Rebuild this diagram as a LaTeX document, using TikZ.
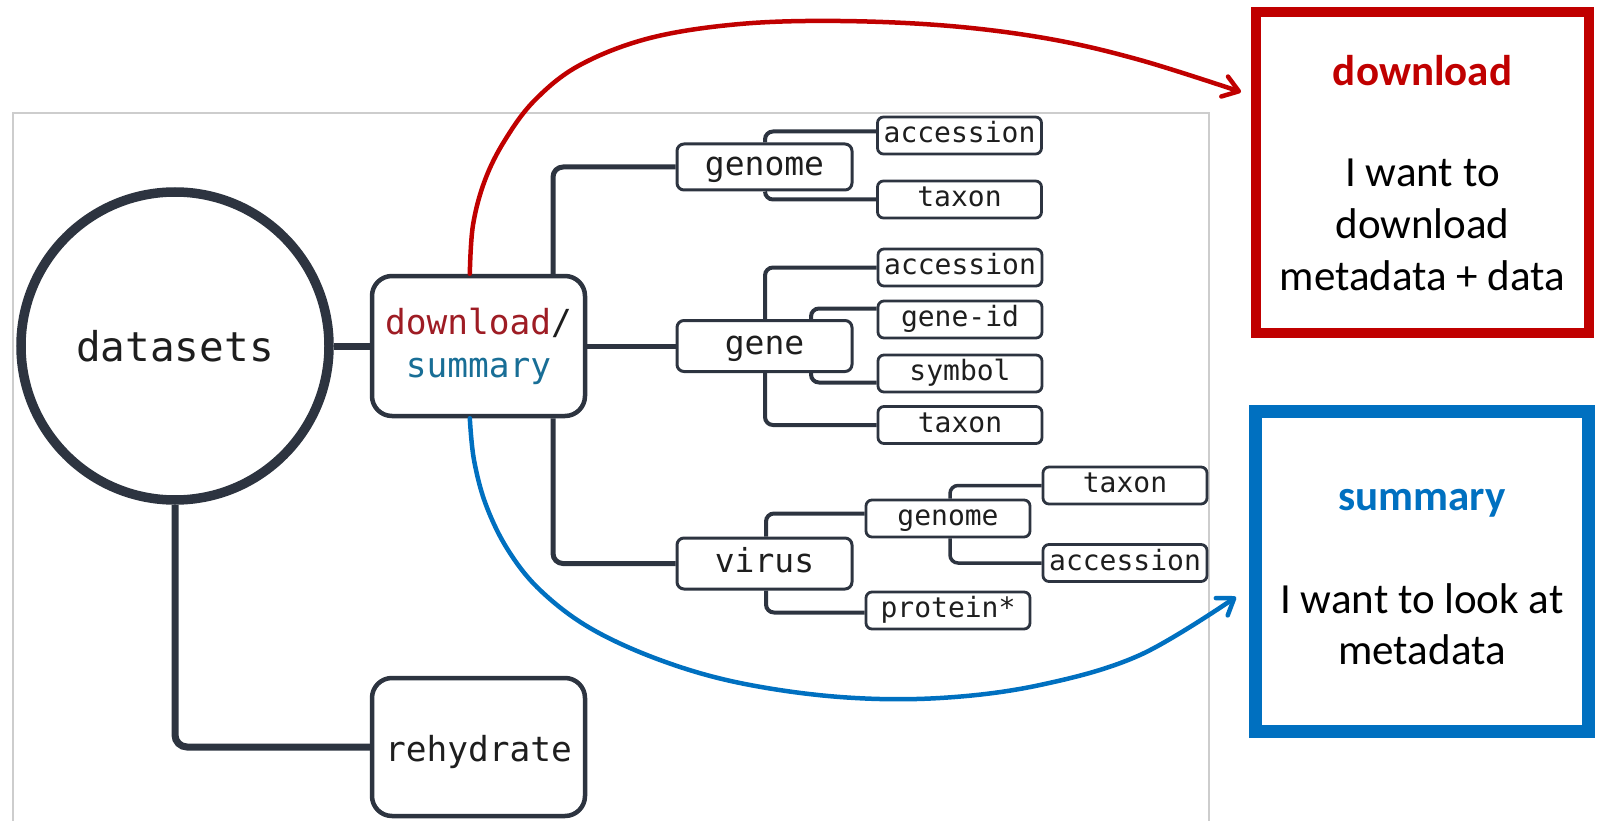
\documentclass[tikz,border=0pt]{standalone}
\usepackage{fontspec}
\setmainfont{Carlito}
\newfontfamily\monof{DejaVu Sans Mono}
\usetikzlibrary{arrows.meta,calc}

\definecolor{ink}{RGB}{45,52,64}
\definecolor{txt}{RGB}{30,30,30}
\definecolor{dlred}{RGB}{158,28,36}
\definecolor{sumblue}{RGB}{24,110,150}
\definecolor{boxred}{RGB}{192,0,0}
\definecolor{boxblue}{RGB}{0,112,192}
\definecolor{framegray}{RGB}{205,205,205}

\begin{document}
\begin{tikzpicture}[x=1pt,y=-1pt,
  rootnode/.style={circle, draw=ink, fill=white, line width=9.5pt, minimum size=308pt,
    inner sep=0pt, text=txt, font=\monof\fontsize{41}{49}\selectfont},
  cmdbox/.style={draw=ink, fill=white, line width=4.5pt, rounded corners=20pt,
    minimum width=213pt, minimum height=140pt, inner sep=0pt, align=center,
    text=txt, font=\monof\fontsize{34.5}{43}\selectfont},
  subbox/.style={draw=ink, fill=white, line width=3pt, rounded corners=7pt,
    minimum width=175pt, minimum height=50pt, inner sep=0pt, text=txt,
    text height=25pt, text depth=8pt, font=\monof\fontsize{33}{39}\selectfont},
  leafbox/.style={draw=ink, fill=white, line width=2.8pt, rounded corners=6pt,
    minimum width=164pt, minimum height=37pt, inner sep=0pt, text=txt,
    text height=21.3pt, text depth=6.7pt, font=\monof\fontsize{28}{34}\selectfont},
  trunk/.style={draw=ink, line width=7pt, rounded corners=12pt},
  branch/.style={draw=ink, line width=5pt, rounded corners=10pt},
  twig/.style={draw=ink, line width=4pt, rounded corners=8pt},
  notebox/.style={line width=10pt, minimum width=333pt, minimum height=321pt, inner sep=0pt},
  notetext/.style={anchor=base, text=black, font=\fontsize{43}{52}\selectfont},
  pointer/.style={line width=4.5pt, line cap=round,
    -{Straight Barb[length=15pt,width=21pt,round]}}
]
\useasboundingbox (0,0) rectangle (1598,821);

% light frame of the command tree panel
\draw[framegray, line width=1.2pt] (13,821) -- (13,113) -- (1209,113) -- (1209,821);

% command tree
\node[rootnode] (root) at (175,346) {datasets};
\node[cmdbox] (dl) at (478.5,346)
  {\textcolor{dlred}{download}/\\\textcolor{sumblue}{summary}};
\node[cmdbox, minimum height=138pt, text height=30pt, text depth=2pt] (rh) at (478.5,747) {rehydrate};

\node[subbox, minimum height=46pt] (gm) at (764.5,167) {genome};
\node[subbox, minimum height=51pt] (gn) at (764.5,346) {gene};
\node[subbox, minimum height=51pt] (vr) at (764.5,563.5) {virus};

\node[leafbox] (ga) at (959.5,135.5) {accession};
\node[leafbox] (gt) at (959.5,199.5) {taxon};

\node[leafbox] (na) at (960,267.5) {accession};
\node[leafbox] (ni) at (960,319.5) {gene-id};
\node[leafbox] (ns) at (960,373.5) {symbol};
\node[leafbox] (nt) at (960,425) {taxon};

\node[leafbox] (vg) at (948,518.5) {genome};
\node[leafbox] (vp) at (948,610.5) {protein*};
\node[leafbox] (vt) at (1125,485.5) {taxon};
\node[leafbox] (va) at (1125,563) {accession};

% tree connectors
\draw[trunk] (root.east) -- (dl.west);
\draw[trunk] (root.south) |- (rh.west);

\draw[branch] (dl.north -| 553,0) |- (gm.west);
\draw[branch] (dl.east) -- (gn.west);
\draw[branch] (dl.south -| 553,0) |- (vr.west);

\draw[twig] (gm.north -| 765,0) |- ($(ga.west)+(0,-4)$);
\draw[twig] (gm.south -| 765,0) |- (gt.west);

\draw[twig] (gn.north -| 765,0) |- (na.west);
\draw[twig] (gn.north -| 811,0) |- ($(ni.west)+(0,-11)$);
\draw[twig] (gn.south -| 811,0) |- ($(ns.west)+(0,9)$);
\draw[twig] (gn.south -| 765,0) |- (nt.west);

\draw[twig] (vr.north -| 766,0) |- ($(vg.west)+(0,-5)$);
\draw[twig] (vr.south -| 766,0) |- ($(vp.west)+(0,2)$);
\draw[twig, line width=3.5pt] (vg.north -| 950,0) |- (vt.west);
\draw[twig, line width=3.5pt] (vg.south -| 950,0) |- (va.west);

% explanation boxes
\node[notebox, draw=boxred] (rbox) at (1422.5,172.5) {};
\node[notetext, text=boxred, font=\bfseries\fontsize{43}{52}\selectfont] (rtitle) at (1422.5,86) {download};
\node[notetext] (rl1) at (1422.5,187) {I want to};
\node[notetext] (rl2) at (1422.5,238) {download};
\node[notetext] (rl3) at (1422.5,290) {metadata + data};

\node[notebox, draw=boxblue, line width=13pt, minimum height=320pt] (bbox) at (1422,571.5) {};
\node[notetext, text=boxblue, font=\bfseries\fontsize{43}{52}\selectfont] (btitle) at (1422,510) {summary};
\node[notetext] (bl1) at (1422,613) {I want to look at};
\node[notetext] (bl2) at (1422,664) {metadata};

% pointers from the command to the explanations
\coordinate (rs) at ($(dl.north west)!0.46!(dl.north east)$);
\coordinate (re) at ($(rbox.north west)+(-10,85)$);
\coordinate (bs) at ($(dl.south west)!0.46!(dl.south east)$);
\coordinate (be) at ($(bbox.north west)+(-13,192)$);

\draw[boxred, pointer] plot[smooth, tension=0.6] coordinates
  {(rs) (473,225) (485,180) (505,140) (535,100) (580,65) (650,38) (740,24)
   (840,21) (950,26) (1050,39) (1140,60) (re)};
\draw[boxblue, pointer] plot[smooth, tension=0.6] coordinates
  {(bs) (474,460) (486,505) (508,550) (540,590) (590,628) (660,660) (740,683)
   (840,697) (940,698) (1040,685) (1140,655) (be)};
\end{tikzpicture}
\end{document}
